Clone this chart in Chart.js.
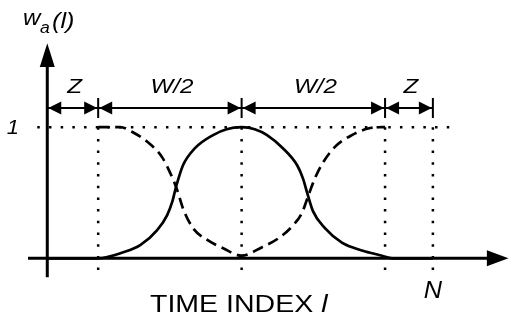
<!DOCTYPE html>
<html>
<head>
<meta charset="utf-8">
<script src="https://cdn.jsdelivr.net/npm/chart.js@4.4.0/dist/chart.umd.min.js"></script>
<style>
body{margin:0;background:#fff}
#wrap{width:513px;height:320px}
</style>
</head>
<body>
<div id="wrap"><canvas id="myChart"></canvas></div>
<script>
// time index l runs 0..N, with N = Z + W + Z
var bounds = [0, 13.2, 50.4, 87.6, 100]     // 0, Z, Z+W/2, Z+W, N
var segLabels = ["Z", "W/2", "W/2", "Z"]

// analysis window w_a(l) (solid)
var solidL = [0, 13.2, 19.7, 24.1, 28.5, 31.1, 32.4, 33.4, 35.2, 38.3, 43.0, 46.5, 50.4, 53.8, 57.0, 61.1, 64.8, 66.3, 67.4, 68.9, 72.0, 76.4, 81.6, 86.8, 89.4, 100]
var solidW = [0, 0, 0.046, 0.10, 0.215, 0.33, 0.43, 0.546, 0.71, 0.84, 0.94, 0.985, 1, 0.985, 0.94, 0.84, 0.71, 0.61, 0.50, 0.36, 0.23, 0.12, 0.06, 0.02, 0, 0]

// neighbouring windows (dashed)
var dashL = [13.2, 15.8, 18.9, 22.3, 26.7, 29.8, 31.9, 33.7, 35.2, 37.8, 41.5, 45.6, 50.4, 55.7, 59.8, 63.7, 66.1, 67.6, 69.4, 71.5, 74.6, 79.0, 83.2, 86.8, 87.6]
var dashW = [1, 1, 1, 0.96, 0.87, 0.77, 0.65, 0.52, 0.38, 0.23, 0.14, 0.077, 0.02, 0.085, 0.15, 0.25, 0.35, 0.47, 0.61, 0.73, 0.85, 0.94, 0.99, 1, 1]

function pts(xs, ys){
    return xs.map(function(v, i){ return {x: v, y: ys[i]} })
}

function txt(ctx, s, x, y, font, sx, align){
    ctx.save()
    ctx.translate(x, y)
    ctx.scale(sx, 1)
    ctx.font = font
    ctx.textAlign = align || 'center'
    ctx.textBaseline = 'alphabetic'
    ctx.fillText(s, 0, 0)
    var w = ctx.measureText(s).width * sx
    ctx.restore()
    return w
}

function tri(ctx, a, b, c){
    ctx.beginPath()
    ctx.moveTo(a[0], a[1]); ctx.lineTo(b[0], b[1]); ctx.lineTo(c[0], c[1])
    ctx.closePath()
    ctx.fill()
}

var diagram = {
    id: 'diagram',
    beforeDatasetsDraw: function(chart){
        var ctx = chart.ctx, xs = chart.scales.x, ys = chart.scales.y
        ctx.save()
        ctx.strokeStyle = '#000'
        ctx.fillStyle = '#000'

        // dotted guides
        ctx.lineWidth = 2.5
        ctx.setLineDash([2.5, 9.2])
        ctx.beginPath()
        ctx.moveTo(xs.getPixelForValue(-2.6), ys.getPixelForValue(1))
        ctx.lineTo(xs.getPixelForValue(106.5), ys.getPixelForValue(1))
        ctx.stroke()
        for (var i = 1; i < bounds.length; i++){
            var px = xs.getPixelForValue(bounds[i])
            ctx.beginPath()
            ctx.moveTo(px, ys.getPixelForValue(1))
            ctx.lineTo(px, ys.getPixelForValue(-0.13))
            ctx.stroke()
        }
        ctx.setLineDash([])

        // axes
        var x0 = xs.getPixelForValue(0), y0 = ys.getPixelForValue(0)
        ctx.lineWidth = 3
        ctx.beginPath()
        ctx.moveTo(x0, ys.getPixelForValue(-0.145))
        ctx.lineTo(x0, ys.getPixelForValue(1.47))
        ctx.moveTo(xs.getPixelForValue(-5), y0)
        ctx.lineTo(xs.getPixelForValue(115), y0)
        ctx.stroke()
        var ty = ys.getPixelForValue(1.64), by = ys.getPixelForValue(1.46)
        tri(ctx, [x0, ty], [x0 - 7.5, by], [x0 + 7.5, by])
        var tx = xs.getPixelForValue(119.6), bx = xs.getPixelForValue(114)
        tri(ctx, [tx, y0], [bx, y0 - 8], [bx, y0 + 8])
        ctx.restore()
    },
    afterDatasetsDraw: function(chart){
        var ctx = chart.ctx, xs = chart.scales.x, ys = chart.scales.y
        ctx.save()
        ctx.strokeStyle = '#000'
        ctx.fillStyle = '#000'

        // dimension line with arrows
        var dy = ys.getPixelForValue(1.146)
        ctx.lineWidth = 2
        ctx.beginPath()
        ctx.moveTo(xs.getPixelForValue(0), dy)
        ctx.lineTo(xs.getPixelForValue(bounds[4]), dy)
        for (var i = 1; i < bounds.length; i++){
            var px = xs.getPixelForValue(bounds[i])
            ctx.moveTo(px, dy - 10)
            ctx.lineTo(px, dy + 10)
        }
        ctx.stroke()
        for (var j = 0; j < segLabels.length; j++){
            var a = xs.getPixelForValue(bounds[j]), b = xs.getPixelForValue(bounds[j + 1])
            tri(ctx, [a + 1, dy], [a + 14, dy - 6.5], [a + 14, dy + 6.5])
            tri(ctx, [b - 1, dy], [b - 14, dy - 6.5], [b - 14, dy + 6.5])
            txt(ctx, segLabels[j], (a + b) / 2 + 2, ys.getPixelForValue(1.26), 'italic 21px "Liberation Sans"', 1.15)
        }

        // labels
        txt(ctx, '1', 19, ys.getPixelForValue(1) + 7, 'italic 20px "Liberation Sans"', 1.1, 'right')
        txt(ctx, 'w', 23, 25, 'italic 22px "Liberation Sans"', 1.1, 'left')
        txt(ctx, 'a', 40, 33, 'italic 16px "Liberation Sans"', 1.1, 'left')
        txt(ctx, '(l)', 52, 28, 'italic 22px "Liberation Sans"', 1.15, 'left')
        var w = txt(ctx, 'TIME INDEX ', 150, 312, '23px "Liberation Sans"', 1.24, 'left')
        txt(ctx, 'l', 150 + w, 312, 'italic 23px "Liberation Sans"', 1.24, 'left')
        txt(ctx, 'N', xs.getPixelForValue(bounds[4]), 298, 'italic 23px "Liberation Sans"', 1.1)
        ctx.restore()
    }
}

var myChart = document.getElementById("myChart").getContext("2d")
var chart = new Chart(myChart, {
    type: 'line',
    data: {
        datasets: [
            {
                label: "w_a(l)",
                data: pts(solidL, solidW),
                borderColor: "#000",
                borderWidth: 2.7,
                cubicInterpolationMode: 'monotone',
                pointRadius: 0,
                fill: false
            },
            {
                label: "neighbours",
                data: pts(dashL, dashW),
                borderColor: "#000",
                borderWidth: 2.7,
                borderDash: [11, 6],
                cubicInterpolationMode: 'monotone',
                pointRadius: 0,
                fill: false
            }
        ]
    },
    options: {
        responsive: true,
        maintainAspectRatio: false,
        animation: false,
        layout: {padding: {left: 28, right: 3, top: 42, bottom: 42}},
        plugins: {legend: {display: false}, tooltip: {enabled: false}},
        scales: {
            x: {type: 'linear', min: -5, max: 120, display: false},
            y: {min: -0.15, max: 1.65, display: false}
        }
    },
    plugins: [diagram]
})
</script>
</body>
</html>
